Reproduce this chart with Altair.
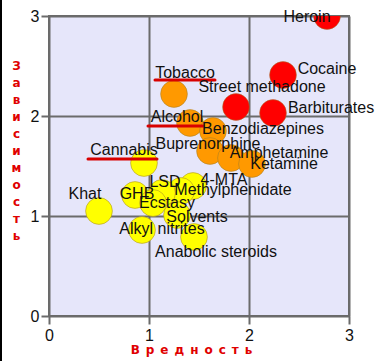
import altair as alt
import pandas as pd

# ---- data ----
drugs = ["Heroin", "Cocaine", "Barbiturates", "Street methadone", "Tobacco",
         "Alcohol", "Benzodiazepines", "Buprenorphine", "Amphetamine", "Ketamine",
         "Cannabis", "4-MTA", "Methylphenidate", "LSD", "GHB",
         "Ecstasy", "Solvents", "Khat", "Alkyl nitrites", "Anabolic steroids"]
harm = [2.78, 2.34, 2.24, 1.87, 1.25,
        1.41, 1.64, 1.61, 1.82, 2.03,
        0.95, 1.44, 1.32, 1.13, 0.86,
        1.04, 1.28, 0.50, 0.93, 1.45]
dependence = [3.00, 2.41, 2.03, 2.09, 2.22,
              1.93, 1.85, 1.65, 1.58, 1.52,
              1.53, 1.30, 1.25, 1.23, 1.21,
              1.13, 1.01, 1.05, 0.86, 0.79]
group = ["high"] * 4 + ["medium"] * 6 + ["low"] * 10
underlined = ["Tobacco", "Alcohol", "Cannabis"]
ticks = [0, 1, 2, 3]
x_title = "\u2002".join("Вредность")
y_title = list("Зависимость")

df = pd.DataFrame({"drug": drugs, "harm": harm, "dependence": dependence, "group": group})

# ---- label layout (pixel offsets from each point) ----
label_offsets = {
    "Heroin": (-20, 1), "Cocaine": (44, -6), "Barbiturates": (58, -5),
    "Street methadone": (26, -20), "Tobacco": (11, -21), "Alcohol": (-13, -6),
    "Benzodiazepines": (50, -2), "Buprenorphine": (-2, -7), "Amphetamine": (48, -5),
    "Ketamine": (32, 0), "Cannabis": (-20, -13), "4-MTA": (31, -6),
    "Methylphenidate": (52, -1), "LSD": (3, -11), "GHB": (2, -1),
    "Ecstasy": (14, 0), "Solvents": (20, 2), "Khat": (-14, -17),
    "Alkyl nitrites": (20, -1), "Anabolic steroids": (22, 15),
}
underline_offsets = {
    "Tobacco": (-19, 41, -14), "Alcohol": (-42, 13, 3), "Cannabis": (-56, 13, -4),
}

X = alt.X("harm:Q", scale=alt.Scale(domain=[0, 3], nice=False),
          axis=alt.Axis(values=ticks, title=x_title, titleX=142, titleY=33,
                        titleBaseline="middle", titleAlign="center",
                        labelPadding=3, format="d"))
Y = alt.Y("dependence:Q", scale=alt.Scale(domain=[0, 3], nice=False),
          axis=alt.Axis(values=ticks, title=y_title, titleAngle=0, titleX=-33, titleY=44,
                        titleBaseline="top", titleAlign="center", titleLineHeight=17,
                        labelPadding=2, format="d"))

base = alt.Chart(df)

points = base.mark_circle(size=720, opacity=1, stroke="#9a7a2a", strokeWidth=0.8,
                          strokeOpacity=0.6, clip=True).encode(
    x=X, y=Y,
    color=alt.Color("group:N", scale=alt.Scale(domain=["high", "medium", "low"],
                                                range=["#FF0000", "#FF9900", "#FFFF00"]),
                    legend=None),
)

layers = [points]
for name in underlined:
    a, b, dy = underline_offsets[name]
    layers.append(
        base.transform_filter(alt.datum.drug == name)
        .mark_rule(color="#D80000", strokeWidth=3, strokeCap="round",
                   xOffset=a, x2Offset=b, yOffset=dy)
        .encode(x=X, x2=alt.X2("harm:Q"), y=Y)
    )
for name in drugs:
    dx, dy = label_offsets[name]
    layers.append(
        base.transform_filter(alt.datum.drug == name)
        .mark_text(dx=dx, dy=dy, align="center", baseline="middle",
                   font="Liberation Sans", fontSize=16, color="#111111")
        .encode(x=X, y=Y, text="drug:N")
    )

frame = alt.Chart(df).mark_rule(color="#000000", strokeWidth=1.5).encode(
    x=alt.value(-48), y=alt.value(-16), y2=alt.value(345))
layers.append(frame)

chart = alt.layer(*layers).properties(
    width=300, height=300, autosize="none",
    padding={"left": 49, "top": 16, "right": 29, "bottom": 45},
    background="white",
).configure_view(
    fill="#E6E6FA", stroke="#6b6b6b", strokeWidth=2
).configure_axis(
    grid=True, gridColor="#6b6b6b", gridWidth=2, domain=False,
    tickColor="#6b6b6b", tickWidth=2, tickSize=8,
    labelFont="Liberation Sans", labelFontSize=16, labelColor="#111111",
    labelFlush=False, labelOverlap=False,
    titleFont="DejaVu Sans", titleFontWeight="bold", titleFontSize=12, titleColor="#E00000",
)

chart.save("out.html", embed_options={"renderer": "svg", "actions": False})
